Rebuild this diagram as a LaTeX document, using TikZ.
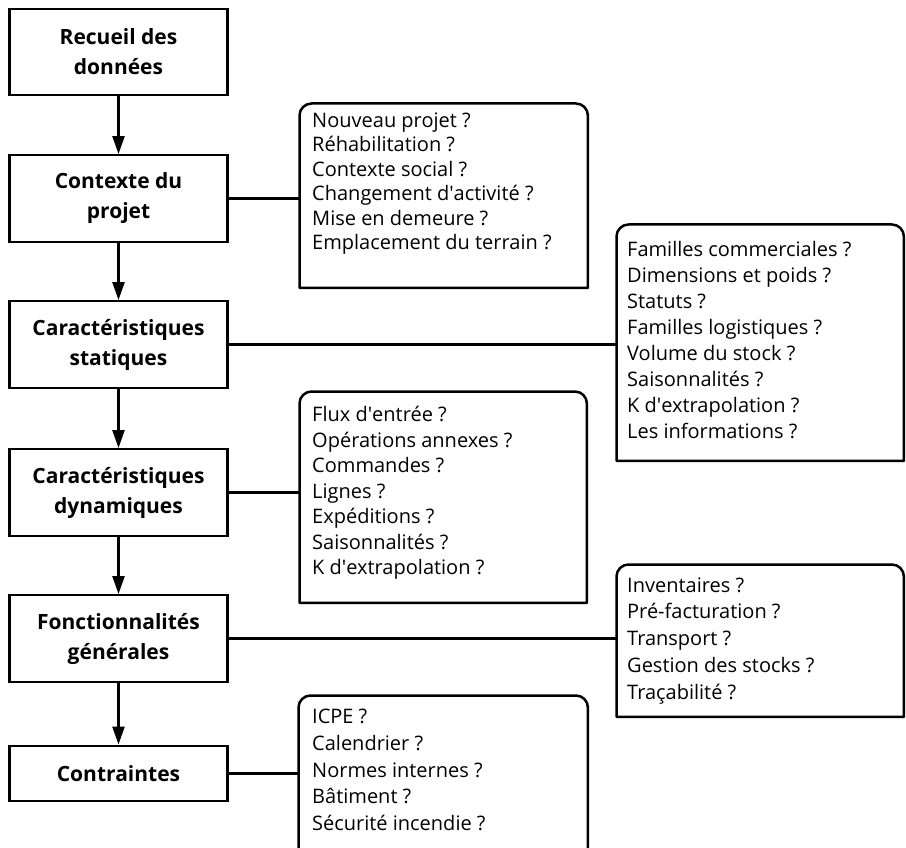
\documentclass[tikz,border=0pt]{standalone}
\usepackage{fontspec}
\setmainfont{Open Sans}
\usepackage{tikz}
\usetikzlibrary{arrows.meta,positioning,calc}

\tikzset{
  etape/.style={draw, line width=2.4pt, minimum width=218pt, minimum height=86.5pt,
    inner sep=0pt, align=center, font=\fontsize{21}{30}\selectfont\bfseries},
  cadre/.style={inner sep=0pt, anchor=north west},
  liste/.style={inner sep=0pt, anchor=north west, align=left, font=\fontsize{20}{#1}\selectfont},
  fleche/.style={line width=2.4pt, -{Triangle[length=18pt,width=12pt]}},
  lien/.style={line width=2.5pt},
}

\begin{document}
\begin{tikzpicture}[x=1pt,y=1pt]
	\useasboundingbox (0,0) rectangle (906,-848);
	\node[etape] (b1) at (118.5,-52) {Recueil des\\données};
	\node[etape] (b2) at (118.5,-198.5) {Contexte du\\projet};
	\node[etape] (b3) at (118.5,-344.5) {Caractéristiques\\statiques};
	\node[etape] (b4) at (118.5,-492.5) {Caractéristiques\\dynamiques};
	\node[etape] (b5) at (118.5,-638.5) {Fonctionnalités\\générales};
	\node[etape, minimum height=55.5pt] (b6) at (118.5,-773.5) {Contraintes};
	\foreach \a/\b in {b1/b2,b2/b3,b3/b4,b4/b5,b5/b6}
		\draw[fleche] (\a) -- (\b);

	\node[cadre, minimum width=288pt, minimum height=184pt] (s1) at (299.5,-103.5) {};
	\node[cadre, minimum width=287pt, minimum height=236pt] (s2) at (616.5,-224.5) {};
	\node[cadre, minimum width=287pt, minimum height=211pt] (s3) at (299.5,-391.5) {};
	\node[cadre, minimum width=287pt, minimum height=152pt] (s4) at (616.5,-564.5) {};
	\node[cadre, minimum width=289pt, minimum height=152.5pt] (s5) at (298.5,-695.5) {};
	\foreach \n in {s1,s2,s3,s4}
		\draw[lien, line join=round] (\n.south west) -- ([yshift=-12pt]\n.north west)
			arc[start angle=180,end angle=90,radius=12pt] -- ([xshift=-12pt]\n.north east)
			arc[start angle=90,end angle=0,radius=12pt] -- (\n.south east) -- cycle;
	\draw[lien, line join=round] (s5.south west) -- ([yshift=-12pt]s5.north west)
		arc[start angle=180,end angle=90,radius=12pt] -- ([xshift=-12pt]s5.north east)
		arc[start angle=90,end angle=0,radius=12pt] -- (s5.south east);

	\node[liste=24.4] (t1) at (312,-110.2) {\strut Nouveau projet ?\\Réhabilitation ?\\Contexte social ?\\Changement d\textquotesingle activité ?\\Mise en demeure ?\\Emplacement du terrain ?};
	\node[liste=26] (t2) at (627,-237.8) {\strut Familles commerciales ?\\Dimensions et poids ?\\Statuts ?\\Familles logistiques ?\\Volume du stock ?\\Saisonnalités ?\\K d\textquotesingle extrapolation ?\\Les informations ?};
	\node[liste=25.5] (t3) at (312,-403.8) {\strut Flux d\textquotesingle entrée ?\\Opérations annexes ?\\Commandes ?\\Lignes ?\\Expéditions ?\\Saisonnalités ?\\K d\textquotesingle extrapolation ?};
	\node[liste=26.8] (t4) at (627,-573.2) {\strut Inventaires ?\\Pré-facturation ?\\Transport ?\\Gestion des stocks ?\\Traçabilité ?};
	\node[liste=26.8] (t5) at (312,-704.5) {\strut ICPE ?\\Calendrier ?\\Normes internes ?\\Bâtiment ?\\Sécurité incendie ?};

	\draw[lien] (b2.east) -- (b2.east -| s1.west);
	\draw[lien] (b3.east) -- (b3.east -| s2.west);
	\draw[lien] (b4.east) -- (b4.east -| s3.west);
	\draw[lien] (b5.east) -- (b5.east -| s4.west);
	\draw[lien] (b6.east) -- (b6.east -| s5.west);
\end{tikzpicture}
\end{document}
